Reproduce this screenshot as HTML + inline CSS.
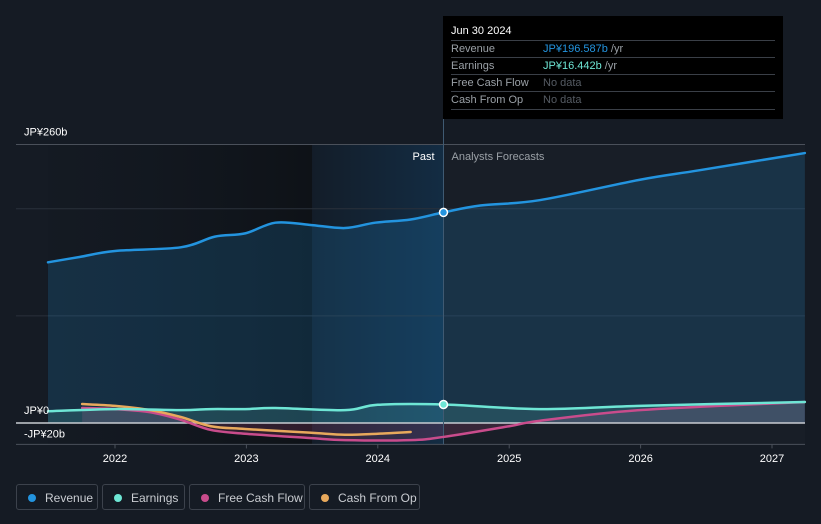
<!DOCTYPE html>
<html><head><meta charset="utf-8">
<style>
body{margin:0;background:#151b24;width:821px;height:524px;overflow:hidden;font-family:"Liberation Sans",sans-serif;}
#wrap{position:relative;width:821px;height:524px;}
svg{position:absolute;left:0;top:0;}
.tip{position:absolute;left:443px;top:16px;width:340px;height:103px;background:#000;font-size:11px;color:#9aa0a6;}
.tip .h{color:#fff;font-size:11px;position:absolute;left:8px;top:9px;}
.row{position:absolute;left:8px;width:324px;height:17px;border-top:1px solid #3a3f47;line-height:17px;}
.row span{position:absolute;left:92px;}
.leg{position:absolute;top:484px;height:26px;border:1px solid #3c424c;border-radius:3px;color:#c9ccd1;font-size:12px;line-height:26px;box-sizing:border-box;}
.leg i{position:absolute;left:11px;top:9px;width:8px;height:8px;border-radius:50%;}
.leg b{font-weight:normal;position:absolute;left:28px;}
</style></head><body>
<div id="wrap">
<svg id="c" width="821" height="524"></svg>
<div class="tip">
<div class="h">Jun 30 2024</div>
<div class="row" style="top:24px">Revenue<span style="color:#2394df">JP¥196.587b <span style="position:static;color:#9aa0a6">/yr</span></span></div>
<div class="row" style="top:41px">Earnings<span style="color:#6ee6d5">JP¥16.442b <span style="position:static;color:#9aa0a6">/yr</span></span></div>
<div class="row" style="top:58px">Free Cash Flow<span style="color:#555b63">No data</span></div>
<div class="row" style="top:75px;border-bottom:1px solid #3a3f47">Cash From Op<span style="color:#555b63">No data</span></div>
</div>
<div class="leg" style="left:16px;width:82px"><i style="background:#2394df"></i><b>Revenue</b></div>
<div class="leg" style="left:102px;width:83px"><i style="background:#6ee6d5"></i><b>Earnings</b></div>
<div class="leg" style="left:189px;width:116px"><i style="background:#c94c8c"></i><b>Free Cash Flow</b></div>
<div class="leg" style="left:309px;width:111px"><i style="background:#e8a95c"></i><b>Cash From Op</b></div>
</div>
<script>
const revX=[2021.49,2021.73,2022,2022.5,2022.76,2022.99,2023.22,2023.48,2023.75,2023.98,2024.25,2024.5,2024.78,2025.23,2025.99,2026.45,2027.25];
const revY=[150,155,160.6,164,174,177,187,185,182,187,190,196.6,203,208,227,236,252];
const earnX=[2021.49,2022,2022.5,2022.73,2022.99,2023.22,2023.75,2024,2024.5,2025.23,2025.99,2027.25];
const earnY=[11,13,12,13,13,14,12,17,17.3,13,16,19.6];
const fcfX=[2021.75,2022,2022.27,2022.5,2022.73,2022.99,2023.48,2023.75,2024.25,2024.5,2025,2025.23,2025.99,2027.25];
const fcfY=[14,13,10,3,-6.5,-10,-14,-16,-16,-13,-3,2,12,19.6];
const cfoX=[2021.75,2022,2022.27,2022.5,2022.73,2022.99,2023.48,2023.75,2024,2024.25];
const cfoY=[17.7,16,12,5.6,-3,-5.6,-9,-11,-10,-8.4];
const yTicks=[260,0,-20];
const yTickLabels=["JP¥260b","JP¥0","-JP¥20b"];
const xTicks=[2022,2023,2024,2025,2026,2027];

const xs=v=>115+(v-2022)*131.4;
const ys=v=>423-v*1.0712;
const svg=document.getElementById('c');
const NS='http://www.w3.org/2000/svg';
function mk(t,a,name){const e=document.createElementNS(NS,t);for(const k in a)e.setAttribute(k,a[k]);


svg.appendChild(e);return e;}
function smooth(X,Y){let p=[];for(let i=0;i<X.length;i++)p.push([xs(X[i]),ys(Y[i])]);
let d='M'+p[0][0]+','+p[0][1];
for(let i=0;i<p.length-1;i++){const p0=p[i-1]||p[i],p1=p[i],p2=p[i+1],p3=p[i+2]||p2;
d+=` C${p1[0]+(p2[0]-p0[0])/6},${p1[1]+(p2[1]-p0[1])/6} ${p2[0]-(p3[0]-p1[0])/6},${p2[1]-(p3[1]-p1[1])/6} ${p2[0]},${p2[1]}`;}
return d;}
const defs=document.createElementNS(NS,'defs');
defs.innerHTML='<linearGradient id="past" x1="0" x2="1"><stop offset="0" stop-color="#11161e" stop-opacity="0.2"/><stop offset="1" stop-color="#0e1217"/></linearGradient><linearGradient id="rec" x1="0" x2="1"><stop offset="0" stop-color="#131d29"/><stop offset="1" stop-color="#132c43"/></linearGradient>';
svg.appendChild(defs);
const xNow=xs(2024.5), xRec=xs(2023.5);
mk('rect',{x:xs(2021.49),y:ys(260),width:xRec-xs(2021.49),height:ys(-20)-ys(260),fill:'url(#past)'},'past-region');
mk('rect',{x:xRec,y:ys(260),width:xNow-xRec,height:ys(-20)-ys(260),fill:'url(#rec)'},'recent-highlight');
mk('rect',{x:xNow,y:ys(260),width:805-xNow,height:ys(-20)-ys(260),fill:'rgba(255,255,255,0.015)'},'forecast-region');
[200,100].forEach(v=>mk('line',{x1:16,x2:805,y1:ys(v),y2:ys(v),stroke:'#2a313b','stroke-width':1},'gridline'));
mk('line',{x1:16,x2:805,y1:ys(260),y2:ys(260),stroke:'#4a505a','stroke-width':1},'gridline-top');
mk('line',{x1:16,x2:805,y1:ys(-20),y2:ys(-20),stroke:'#4a505a','stroke-width':1},'x-axis-line');
function area(X,Y,fill,name){const d=smooth(X,Y)+` L${xs(X[X.length-1])},${ys(0)} L${xs(X[0])},${ys(0)} Z`;mk('path',{d,fill},name);}
area(revX,revY,'rgba(35,148,223,0.18)','revenue-area');
area(fcfX,fcfY,'rgba(201,76,140,0.18)','fcf-area');
area(earnX,earnY,'rgba(110,230,213,0.15)','earnings-area');
mk('line',{x1:16,x2:805,y1:ys(0),y2:ys(0),stroke:'#c8ccd2','stroke-width':1.5},'zero-line');
mk('line',{x1:xNow,x2:xNow,y1:95,y2:ys(-20),stroke:'#3f5a72','stroke-width':1},'now-line');
function line(X,Y,c,name){mk('path',{d:smooth(X,Y),fill:'none',stroke:c,'stroke-width':2.5,'stroke-linecap':'round'},name);}
line(fcfX,fcfY,'#c94c8c','fcf-line');
line(cfoX,cfoY,'#e8a95c','cfo-line');
line(earnX,earnY,'#6ee6d5','earnings-line');
line(revX,revY,'#2394df','revenue-line');
mk('circle',{cx:xNow,cy:ys(196.6),r:4,fill:'#2394df',stroke:'#fff','stroke-width':1.5},'revenue-marker');
mk('circle',{cx:xNow,cy:ys(17.3),r:4,fill:'#6ee6d5',stroke:'#fff','stroke-width':1.5},'earnings-marker');
yTicks.forEach((v,i)=>{const t=mk('text',{x:24,y:ys(v)-(i==2?7:9),fill:'#fff','font-size':11,'font-family':'Liberation Sans, sans-serif'},'y-tick-label');t.textContent=yTickLabels[i];});
xTicks.forEach(v=>{mk('line',{x1:xs(v),x2:xs(v),y1:ys(-20),y2:ys(-20)+4,stroke:'#4a505a'},'x-tick');
const t=mk('text',{x:xs(v),y:462,fill:'#fff','font-size':11,'text-anchor':'middle','font-family':'Liberation Sans, sans-serif'},'x-tick-label');t.textContent=v;});
let t=mk('text',{x:xNow-9,y:160,fill:'#fff','font-size':11,'text-anchor':'end','font-family':'Liberation Sans, sans-serif'},'past-label');t.textContent='Past';
t=mk('text',{x:xNow+8,y:160,fill:'#9aa0a6','font-size':11,'font-family':'Liberation Sans, sans-serif'},'forecast-label');t.textContent='Analysts Forecasts';
</script>
</body></html>
